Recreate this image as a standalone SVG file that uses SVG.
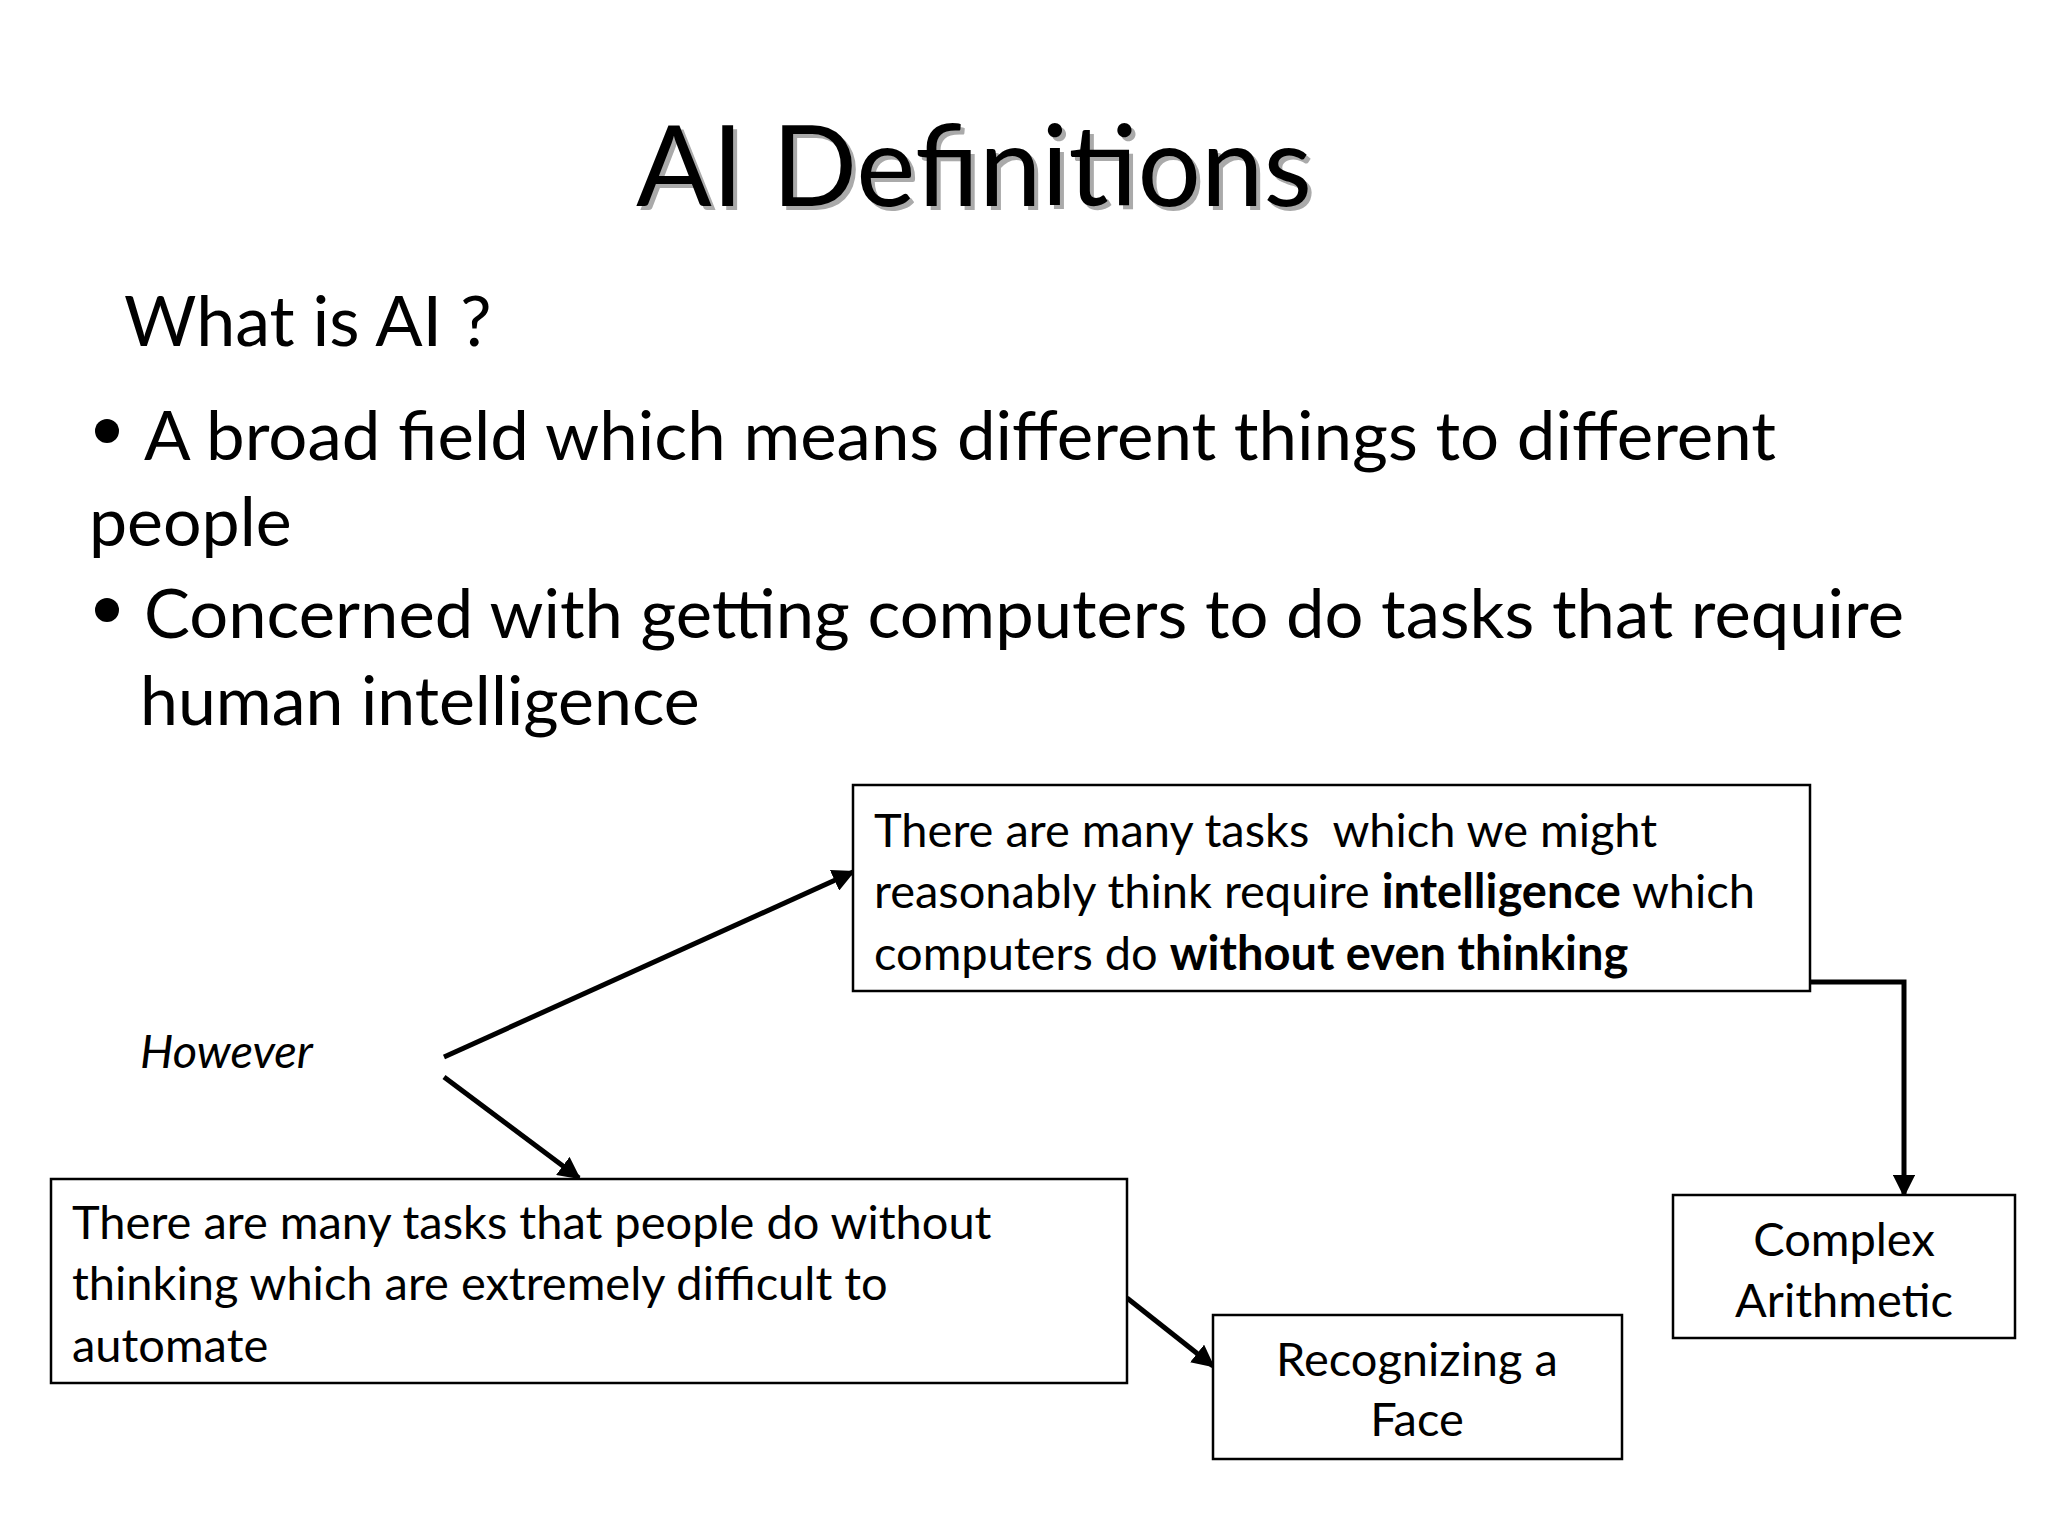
<svg xmlns="http://www.w3.org/2000/svg" width="2048" height="1536" viewBox="0 0 2048 1536">
<style>
text{font-family:Lato,"Open Sans","Liberation Sans",sans-serif;fill:#000;white-space:pre}
.b{font-size:68px}.n{font-size:47px}.c{text-anchor:middle}
rect{fill:#fff;stroke:#000;stroke-width:2.5}
.l{stroke:#000;stroke-width:5;fill:none;marker-end:url(#a)}
</style>
<defs><marker id="a" viewBox="0 0 10 10" refX="9" refY="5" markerWidth="4.5" markerHeight="4.5" orient="auto"><path d="M0,0L10,5L0,10z" fill="#000"/></marker></defs>
<rect x="0" y="0" width="2048" height="1536" style="fill:#fff;stroke:none"/>
<g id="title">
<text x="978" y="210" class="c" font-size="112" style="fill:#aaa">AI Definitions</text>
<text x="974" y="206" class="c" font-size="112">AI Definitions</text>
</g>
<g id="body">
<text x="124" y="346" font-size="70">What is AI ?</text>
<circle cx="107" cy="431" r="12"/>
<text x="144" y="460" class="b" textLength="1632" lengthAdjust="spacingAndGlyphs">A broad field which means different things to different</text>
<text x="89" y="546" class="b">people</text>
<circle cx="107" cy="610" r="12"/>
<text x="144" y="638" class="b" textLength="1760" lengthAdjust="spacingAndGlyphs">Concerned with getting computers to do tasks that require</text>
<text x="140" y="725" class="b">human intelligence</text>
<text x="140" y="1068" class="n" font-style="italic">However</text>
</g>
<g id="connectors">
<line class="l" x1="444" y1="1057" x2="853" y2="872"/>
<line class="l" x1="444" y1="1077" x2="579" y2="1178"/>
<line class="l" x1="1127" y1="1298" x2="1213" y2="1366"/>
<polyline class="l" points="1810,982 1904,982 1904,1195"/>
</g>
<g id="box1">
<rect x="853" y="785" width="957" height="206"/>
<text x="874" y="847" class="n">There are many tasks  which we might</text>
<text x="874" y="908" class="n">reasonably think require <tspan font-weight="bold">intelligence</tspan> which</text>
<text x="874" y="970" class="n">computers do <tspan font-weight="bold">without even thinking</tspan></text>
</g>
<g id="box2">
<rect x="51" y="1179" width="1076" height="204"/>
<text x="72" y="1239" class="n">There are many tasks that people do without</text>
<text x="72" y="1300" class="n">thinking which are extremely difficult to</text>
<text x="72" y="1362" class="n">automate</text>
</g>
<g id="face">
<rect x="1213" y="1315" width="409" height="144"/>
<text x="1417" y="1376" class="n c">Recognizing a</text>
<text x="1417" y="1436" class="n c">Face</text>
</g>
<g id="arith">
<rect x="1673" y="1195" width="342" height="143"/>
<text x="1844" y="1256" class="n c">Complex</text>
<text x="1844" y="1317" class="n c">Arithmetic</text>
</g>
</svg>
